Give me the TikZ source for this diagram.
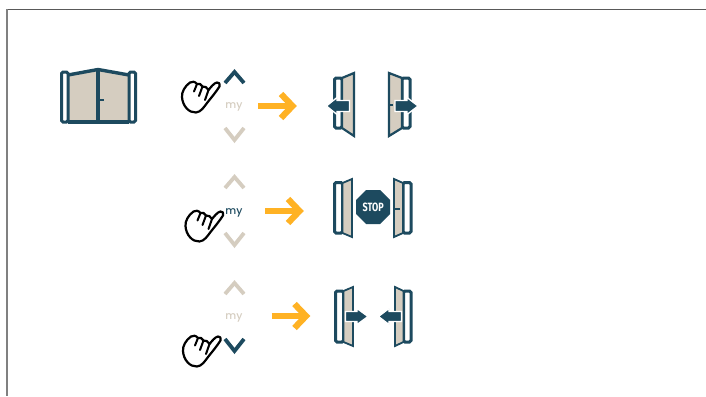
\documentclass[tikz,border=0pt]{standalone}
\usepackage{fontspec}
\setmainfont{Lato}
\newfontfamily\stopfont{Fira Sans}
\newfontfamily\myfont{Poppins Medium}
\definecolor{navy}{HTML}{1D4A5F}
\definecolor{sand}{HTML}{D5CDC0}
\definecolor{amber}{HTML}{FFB224}
\tikzset{
  post/.style={draw=navy,fill=white,line width=3pt,rounded corners=1.5pt},
  leaf/.style={draw=navy,fill=sand,line width=2.2pt,line join=miter},
  bar/.style={draw=navy,line width=3.4pt},
  chev/.style={line width=3.8pt,line join=miter,fill=none},
  mylabel/.style={font=\myfont\fontsize{10.5}{10.5}\selectfont,inner sep=0pt},
  move/.style={draw=white,fill=navy,line width=1.3pt,line join=miter},
  go/.style={draw=amber,line width=6.2pt,line join=miter,fill=none},
  hand/.style={draw=black,fill=white,line width=2.2pt,line join=round,line cap=round},
  crease/.style={draw=black,line width=2pt,line cap=round},
}
\newcommand{\handicon}[2]{%
  \begin{scope}[shift={(#1,#2)}]
    \draw[hand] (217,82.5) .. controls (214,83) and (211,87) .. (208.5,90)
      .. controls (207,87.5) and (205,86) .. (202.5,86.5)
      .. controls (201,84) and (199,83) .. (197,84)
      .. controls (195,81.5) and (192,81) .. (190,82.5)
      .. controls (185,86) and (181.5,92) .. (182,97)
      .. controls (182.5,106) and (189,113) .. (196,112.5)
      .. controls (201,112) and (204,107) .. (207,103)
      .. controls (211,98) and (216,92) .. (219.5,86.5)
      .. controls (220.5,84) and (219,82) .. (217,82.5) -- cycle;
    \draw[crease] (197,84) -- (194,91.5);
    \draw[crease] (202.5,86.5) -- (199,96);
    \draw[crease] (208.5,90) -- (205,100);
  \end{scope}}
\newcommand{\remote}[4]{% dy, up colour, my colour, down colour
  \begin{scope}[shift={(0,#1)}]
    \coordinate (upa) at (225,83); \coordinate (upb) at (234.5,72); \coordinate (upc) at (244,83);
    \coordinate (dna) at (225,128); \coordinate (dnb) at (234.5,140); \coordinate (dnc) at (244,128);
    \draw[chev,#2] (upa) -- (upb) -- (upc);
    \draw[chev,#4] (dna) -- (dnb) -- (dnc);
  \end{scope}}
\newcommand{\goarrow}[2]{%
  \begin{scope}[shift={(#1,#2)}]
    \coordinate (gs) at (258,106); \coordinate (gt) at (292,106);
    \draw[go] (gs) -- (gt);
    \draw[go] (281,94) -- (292.5,106) -- (281,118);
  \end{scope}}
\begin{document}
\begin{tikzpicture}[x=1pt,y=-1pt]
\useasboundingbox (0,0) rectangle (706,396);
\fill[white] (0,0) rectangle (706,396);
% frame
\draw[draw=black!65,line width=1pt] (7,9.5) -- (706,9.5);
\draw[draw=black!50,line width=1.3pt] (7,9.5) -- (7,396);

% gate
\fill[sand] (68,75) -- (98,69) -- (129,75) -- (129,122) -- (68,122) -- cycle;
\draw[post] (61.5,72) rectangle (68,122);
\draw[post] (129,72) rectangle (135.5,122);
\draw[bar] (68,75) -- (98,69.5) -- (129,75);
\draw[bar] (68,122) -- (129,122);
\draw[bar] (98,69) -- (98,122);
\draw[bar,line width=2.6pt] (98,100) -- (104,100);

% remotes
\remote{0}{navy}{}{sand}
\remote{105}{sand}{}{sand}
\remote{211}{sand}{}{navy}
\node[mylabel,text=sand] (my1) at (234,107) {my};
\node[mylabel,text=navy] (my2) at (234,212.5) {my};
\node[mylabel,text=sand] (my3) at (234,317.5) {my};

% hands
\handicon{0}{0}
\handicon{3.5}{129}
\handicon{1}{254}

% orange arrows
\goarrow{0}{0}
\goarrow{7}{105}
\goarrow{13.5}{210}

% row 1 doors
\draw[post] (334.5,78) rectangle (342,128);
\draw[leaf] (342,78) -- (354,73) -- (354,136) -- (342,128) -- cycle;
\draw[post] (402,78) rectangle (410,128);
\draw[leaf] (389,73) -- (402,78) -- (402,128) -- (389,136) -- cycle;
\draw[bar,line width=2.6pt] (389,105) -- (393,105);
\draw[move] (349.5,100.5) -- (337,100.5) -- (337,97.5) -- (326.5,106) -- (337,114.5) -- (337,111.5) -- (349.5,111.5) -- cycle;
\draw[move] (395,100.5) -- (407,100.5) -- (407,97.5) -- (418,106) -- (407,114.5) -- (407,111.5) -- (395,111.5) -- cycle;

% row 2 doors
\draw[post] (334.5,182.5) rectangle (342.5,233);
\draw[leaf,line width=1.8pt] (342.5,183) -- (352,179) -- (352,237) -- (342.5,233) -- cycle;
\draw[post] (403,182.5) rectangle (411,233);
\draw[leaf,line width=1.8pt] (394,179) -- (403,183) -- (403,233) -- (394,237) -- cycle;
\draw[bar,line width=2.6pt] (395,209) -- (399.5,209);
\fill[navy] (380.2,190) -- (390.2,200) -- (390.2,214) -- (380.2,224) -- (366.2,224) -- (356.2,214) -- (356.2,200) -- (366.2,190) -- cycle;
\node[text=white,inner sep=0pt,font=\stopfont\bfseries\fontsize{10}{10}\selectfont,xscale=0.9,yscale=1.2] (stop) at (373.2,207) {STOP};

% row 3 doors
\draw[post] (335.5,291) rectangle (343.5,342);
\draw[leaf,line width=1.8pt] (343.5,291) -- (353,287) -- (353,346) -- (343.5,342) -- cycle;
\draw[post] (403.5,291) rectangle (411,342);
\draw[leaf,line width=1.8pt] (395,287) -- (403.5,291) -- (403.5,342) -- (395,346) -- cycle;
\draw[move] (345.5,311.5) -- (357,311.5) -- (357,308.5) -- (368,316.5) -- (357,324.5) -- (357,321.5) -- (345.5,321.5) -- cycle;
\draw[move] (401.5,311.5) -- (389,311.5) -- (389,308.5) -- (378.5,316.5) -- (389,324.5) -- (389,321.5) -- (401.5,321.5) -- cycle;
\end{tikzpicture}
\end{document}
